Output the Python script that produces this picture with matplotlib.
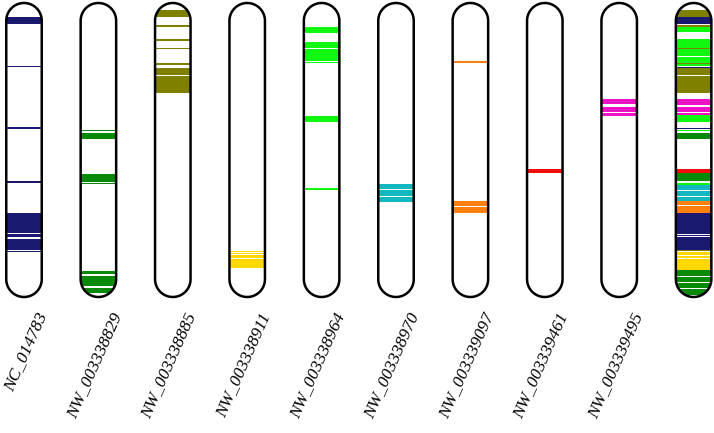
import matplotlib
matplotlib.use("Agg")
import matplotlib.pyplot as plt
import numpy as np
from matplotlib.patches import PathPatch, Rectangle
from matplotlib.path import Path

# sequence names, top-to-bottom band positions in % of chromosome length
NAMES = ["NC_014783", "NW_003338829", "NW_003338885", "NW_003338911",
         "NW_003338964", "NW_003338970", "NW_003339097", "NW_003339461",
         "NW_003339495", ""]

C = {"navy": "#191970", "green": "#088a08", "olive": "#7f7f00",
     "gold": "#ffd800", "lime": "#10f810", "teal": "#12b8be",
     "orange": "#ff800e", "red": "#f20d0d", "magenta": "#ee12c6"}

NC_014783 = [(4.7, 7.2), (21.3, 21.9), (42.2, 42.8), (60.7, 61.1),
             (71.5, 78.1), (78.7, 79.7), (80.3, 84.0), (84.4, 84.8)]
NW_003338829 = [(43.2, 43.7), (44.2, 46.3), (58.2, 60.8), (61.1, 61.5),
                (91.0, 92.3), (92.7, 94.4), (94.7, 96.4), (96.8, 98.6)]
NW_003338885 = [(2.4, 4.7), (7.5, 8.3), (12.4, 13.0), (15.2, 15.8),
                (20.5, 21.2), (22.2, 24.5), (24.8, 28.1), (28.4, 30.7)]
NW_003338911 = [(84.3, 84.8), (84.9, 85.5), (85.8, 86.7), (87.0, 90.2)]
NW_003338964 = [(8.3, 10.3), (13.2, 15.2), (15.8, 18.3), (18.5, 19.7),
                (20.1, 20.4), (38.4, 40.4), (63.0, 63.5)]
NW_003338970 = [(61.7, 63.2), (63.6, 65.7), (66.1, 67.6)]
NW_003339097 = [(19.8, 20.3), (67.3, 69.1), (69.5, 71.5)]
NW_003339461 = [(56.5, 57.9)]
NW_003339495 = [(32.7, 34.5), (35.3, 37.2), (37.5, 38.3)]
SINGLE_COLOURS = ["navy", "green", "olive", "gold", "lime", "teal",
                  "orange", "red", "magenta"]

# last chromosome: all loci stacked
ALL_BANDS = [(2.4, 4.7, "olive"), (4.7, 7.1, "navy"), (7.5, 8.1, "olive"),
             (8.1, 10.0, "lime"), (12.4, 15.2, "lime"), (15.2, 15.6, "olive"),
             (15.6, 18.1, "lime"), (18.4, 20.3, "lime"), (20.3, 20.8, "olive"),
             (20.8, 21.5, "lime"), (21.6, 22.0, "navy"), (22.0, 24.5, "olive"),
             (24.8, 28.1, "olive"), (28.4, 30.7, "olive"),
             (32.7, 34.6, "magenta"), (35.3, 37.2, "magenta"),
             (37.5, 38.1, "magenta"), (38.1, 40.4, "lime"),
             (42.4, 43.0, "navy"), (43.3, 43.7, "lime"), (44.2, 46.4, "green"),
             (56.4, 57.8, "red"), (57.8, 60.6, "green"), (61.2, 61.9, "lime"),
             (61.9, 63.6, "teal"), (64.0, 65.6, "teal"), (66.0, 67.4, "teal"),
             (67.4, 68.6, "orange"), (69.0, 71.4, "orange"),
             (71.4, 78.5, "navy"), (78.8, 79.2, "navy"), (79.6, 83.9, "navy"),
             (83.9, 84.5, "olive"), (84.7, 85.6, "gold"), (86.0, 86.8, "gold"),
             (87.1, 90.7, "gold"), (90.7, 92.8, "green"), (93.2, 95.0, "green"),
             (95.4, 96.8, "green"), (97.2, 99.4, "green")]

SINGLE_BANDS = [NC_014783, NW_003338829, NW_003338885, NW_003338911,
                NW_003338964, NW_003338970, NW_003339097, NW_003339461,
                NW_003339495]

W, H = 714, 433
PX = 2.94                      # pixels per % of chromosome length
X0, STEP, WIDTH = 24 / PX, 74.4 / PX, 35.5 / PX


def capsule(cx, r, length=100):
    t = np.linspace(0, np.pi, 40)
    top = np.c_[cx + r * np.cos(t), r - r * np.sin(t)]
    t = np.linspace(np.pi, 2 * np.pi, 40)
    bot = np.c_[cx + r * np.cos(t), length - r - r * np.sin(t)]
    v = np.vstack([top, bot, top[:1]])
    codes = [Path.MOVETO] + [Path.LINETO] * (len(v) - 2) + [Path.CLOSEPOLY]
    return Path(v, codes)


fig = plt.figure(figsize=(W / 100, H / 100), dpi=100)
ax = fig.add_axes([0, (H - 297) / H, 1, 294 / H])
ax.set_xlim(0, W / PX)
ax.set_ylim(100, 0)
ax.axis("off")

bands = [[(s, e, c) for s, e in b] for b, c in zip(SINGLE_BANDS, SINGLE_COLOURS)]
bands.append(ALL_BANDS)

for i, (name, bl) in enumerate(zip(NAMES, bands)):
    cx = X0 + i * STEP
    left = cx - WIDTH / 2
    path = capsule(cx, WIDTH / 2)
    shape = PathPatch(path, fc="white", ec="none", zorder=1)
    ax.add_patch(shape)
    for s, e, c in bl:
        r = Rectangle((left, s), WIDTH, e - s, fc=C[c], ec="none", zorder=2)
        ax.add_patch(r)
        r.set_clip_path(shape)
    ax.add_patch(PathPatch(path, fc="none", ec="black", lw=1.8, zorder=3,
                           clip_on=False, joinstyle="round"))
    if name:
        ax.text(cx + 6.6, 105.6, name, rotation=66, rotation_mode="anchor",
                ha="right", va="center", fontsize=12.6, style="italic",
                family="Liberation Serif", clip_on=False)

fig.savefig("out.png", dpi=100)
